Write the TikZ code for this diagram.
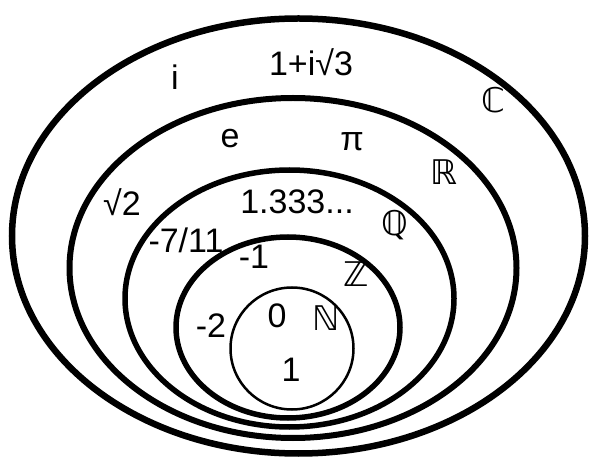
\documentclass[tikz,border=0pt]{standalone}
\usepackage{fontspec}
\setmainfont{Liberation Sans}
\newfontfamily\bbfont{DejaVu Sans}
\tikzset{
  setline/.style={line width=5.5pt},
  numtext/.style={font=\fontsize{34}{40}\selectfont},
  settext/.style={font=\bbfont\fontsize{34}{40}\selectfont}
}
\begin{document}
\begin{tikzpicture}[x=1pt,y=-1pt]
		\useasboundingbox (0,0) rectangle (600,470);
		% nested sets
		\draw[setline,line width=6.5pt] (298.5,236) ellipse (286.5 and 217.5);
		\draw[setline,line width=6pt] (293,268) ellipse (223.5 and 170);
		\draw[setline] (289.5,298.5) ellipse (164.5 and 128.5);
		\draw[setline] (288,327.5) ellipse (112 and 90.5);
		\draw[line width=2.5pt] (292,348.5) ellipse (61.5 and 61);
		% set names
		\node[settext] (C) at (493,100) {ℂ};
		\node[settext] (R) at (444,172) {ℝ};
		\node[settext] (Q) at (395,225) {ℚ};
		\node[settext] (Z) at (356,274) {ℤ};
		\node[settext] (N) at (326,318) {ℕ};
		% elements
		\node[numtext] (cpx) at (311,62) {1+i√3};
		\node[numtext] (imag) at (175,77) {i};
		\node[numtext] (euler) at (230,139) {e};
		\node[numtext] (pi) at (352,142) {π};
		\node[numtext] (root) at (122,202) {√2};
		\node[numtext] (dec) at (297,202) {1.333...};
		\node[numtext] (frac) at (186,240) {-7/11};
		\node[numtext] (mone) at (254,257) {-1};
		\node[numtext] (mtwo) at (211,326) {-2};
		\node[numtext] (zero) at (277,316) {0};
		\node[numtext] (one) at (291,370) {1};
\end{tikzpicture}
\end{document}
